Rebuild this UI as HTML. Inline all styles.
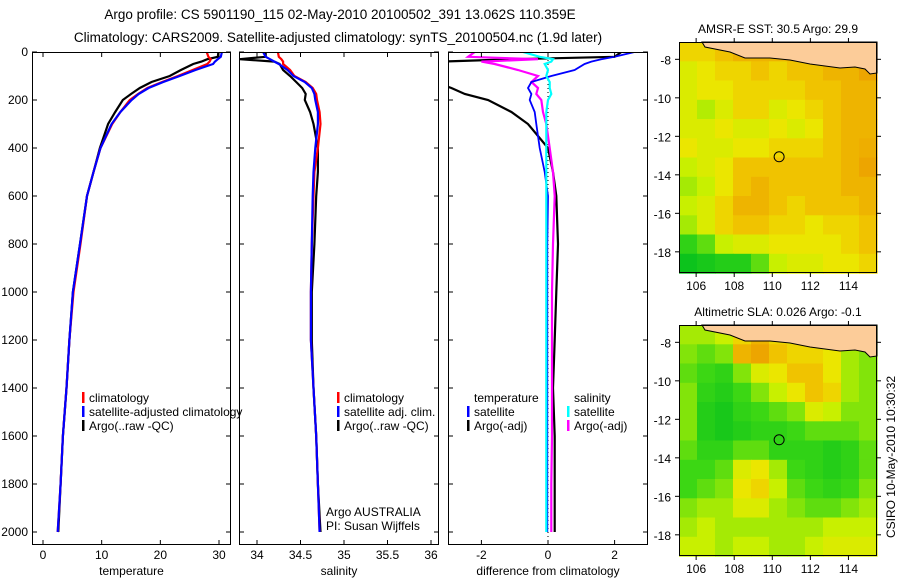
<!DOCTYPE html>
<html><head><meta charset="utf-8"><style>
body{margin:0;background:#fff;}
svg{display:block;font-family:"Liberation Sans",sans-serif;}
text{font-size:12px;fill:#000;}
</style></head><body>
<svg id="c" width="900" height="580" viewBox="0 0 900 580">
<text x="340" y="19" text-anchor="middle" style="font-size:13.5px">Argo profile: CS 5901190_115 02-May-2010 20100502_391 13.062S 110.359E</text>
<text x="338" y="42" text-anchor="middle" style="font-size:13.5px">Climatology: CARS2009. Satellite-adjusted climatology: synTS_20100504.nc (1.9d later)</text>
<text x="778" y="33" text-anchor="middle">AMSR-E SST: 30.5 Argo: 29.9</text>
<text x="778" y="316" text-anchor="middle">Altimetric SLA: 0.026 Argo: -0.1</text>
<text transform="translate(895,457) rotate(-90)" text-anchor="middle">CSIRO 10-May-2010 10:30:32</text>
</svg>
<script>
const depths=[0,20,30,40,50,75,100,125,150,175,200,250,300,400,500,600,800,1000,1200,1400,1600,1800,2000];
const tempArgo=[29.9,29.8,28,27,25.6,23.5,21.6,18.5,16.5,15,13.6,12.3,11.1,9.7,8.6,7.5,6.3,5.1,4.5,4.0,3.4,3.0,2.6];
const tempAdj=[30.5,30.3,29.8,29.3,29,26,23.3,20.5,18,16.3,15.1,13.2,11.7,9.8,8.6,7.5,6.3,5.1,4.5,4.0,3.4,3.0,2.5];
const tempClim=[27.9,28.2,28.6,28.4,28,25.5,23,20.3,17.8,16.2,14.8,13.2,11.8,9.8,8.6,7.5,6.4,5.2,4.5,4.0,3.4,3.0,2.5];
const salArgo=[34.1,34.1,33.8,34.2,34.26,34.3,34.38,34.45,34.52,34.56,34.55,34.61,34.65,34.70,34.7,34.68,34.66,34.63,34.63,34.65,34.68,34.7,34.73];
const salAdj=[34.07,34.1,34.15,34.2,34.25,34.35,34.42,34.55,34.63,34.66,34.67,34.70,34.70,34.67,34.65,34.64,34.63,34.62,34.62,34.65,34.68,34.7,34.72];
const salClim=[34.24,34.25,34.28,34.3,34.3,34.38,34.43,34.56,34.64,34.68,34.69,34.72,34.73,34.7,34.66,34.65,34.63,34.62,34.62,34.65,34.68,34.7,34.72];
const dTempSat=[2.6,2.0,1.6,1.3,1.1,0.8,0.1,-0.5,-0.6,-0.5,-0.55,-0.4,-0.35,-0.25,-0.1,0,-0.02,-0.02,-0.02,-0.02,-0.02,-0.02,-0.02];
const dTempArgo=[2.2,2.0,-1.0,-3.2,-3.4,-3.5,-3.5,-3.4,-2.9,-2.5,-1.8,-1.1,-0.6,0,0.15,0.25,0.3,0.25,0.2,0.15,0.2,0.2,0.2];
const dSalSat=[-0.75,-0.25,0.15,0.1,-0.1,0.0,-0.05,0.05,0.05,0.1,0,-0.05,-0.05,-0.05,-0.05,-0.05,-0.05,-0.05,-0.05,-0.05,-0.05,-0.05,-0.05];
const dSalArgo=[-2.2,-2.4,-0.3,-2.0,-1.6,-0.9,-0.3,-0.5,-0.3,-0.35,-0.2,-0.15,-0.05,0.05,0.15,0.2,0.15,0.12,0.12,0.12,0.12,0.1,0.1];
const depthTicks=[0,200,400,600,800,1000,1200,1400,1600,1800,2000];
const tempTicks=[0,10,20,30];
const salTicks=[34,34.5,35,35.5,36];
const diffTicks=[-2,0,2];
const lonTicks=[106,108,110,112,114];
const latTicks=[-8,-10,-12,-14,-16,-18];
const sstGrid=[
[0.6,0.6,0.65,0.7,0.7,0.7,0.7,0.7,0.8,0.8,0.85],
[0.5,0.55,0.6,0.6,0.65,0.6,0.65,0.65,0.7,0.7,0.75],
[0.5,0.55,0.55,0.6,0.6,0.6,0.6,0.65,0.65,0.7,0.7],
[0.5,0.42,0.5,0.6,0.6,0.5,0.55,0.6,0.65,0.7,0.7],
[0.5,0.5,0.55,0.5,0.5,0.55,0.5,0.55,0.65,0.7,0.7],
[0.55,0.5,0.5,0.55,0.55,0.6,0.6,0.6,0.65,0.7,0.72],
[0.45,0.5,0.55,0.65,0.65,0.65,0.65,0.65,0.65,0.7,0.75],
[0.4,0.45,0.55,0.65,0.7,0.65,0.65,0.65,0.65,0.7,0.7],
[0.45,0.5,0.6,0.7,0.7,0.65,0.6,0.65,0.65,0.65,0.7],
[0.4,0.5,0.6,0.65,0.65,0.6,0.6,0.55,0.6,0.6,0.65],
[0.2,0.3,0.45,0.5,0.5,0.55,0.55,0.55,0.55,0.6,0.65],
[0.05,0.1,0.15,0.15,0.3,0.45,0.5,0.5,0.55,0.55,0.6]];
const slaGrid=[
[0.4,0.4,0.45,0.6,0.7,0.6,0.55,0.55,0.5,0.35,0.3],
[0.35,0.3,0.35,0.7,0.75,0.65,0.6,0.6,0.55,0.4,0.35],
[0.3,0.25,0.2,0.35,0.5,0.55,0.65,0.65,0.55,0.4,0.35],
[0.35,0.2,0.15,0.25,0.35,0.45,0.55,0.65,0.6,0.4,0.35],
[0.35,0.15,0.1,0.2,0.25,0.3,0.35,0.5,0.45,0.35,0.35],
[0.35,0.15,0.1,0.15,0.2,0.2,0.25,0.3,0.3,0.3,0.35],
[0.3,0.2,0.2,0.3,0.3,0.2,0.2,0.2,0.15,0.2,0.3],
[0.25,0.25,0.3,0.5,0.55,0.4,0.25,0.2,0.15,0.2,0.3],
[0.25,0.3,0.35,0.55,0.6,0.45,0.3,0.25,0.2,0.25,0.35],
[0.35,0.4,0.4,0.5,0.5,0.4,0.35,0.3,0.3,0.35,0.4],
[0.4,0.45,0.4,0.4,0.4,0.4,0.4,0.4,0.45,0.45,0.45],
[0.45,0.45,0.4,0.45,0.45,0.4,0.4,0.45,0.5,0.5,0.5]];
const argoLon=110.359, argoLat=-13.062;

const NS='http://www.w3.org/2000/svg';
const svg=document.getElementById('c');
function mk(tag,attrs,parent){const e=document.createElementNS(NS,tag);for(const k in attrs)e.setAttribute(k,attrs[k]);(parent||svg).appendChild(e);return e;}
function txt(x,y,s,anchor,parent){const t=mk('text',{x:x,y:y,'text-anchor':anchor||'start'},parent);t.textContent=s;return t;}

const yTop=52,yBot=545;
const yD=d=>52+d*0.24;
const panels=[
 {x0:32,x1:231,xs:v=>43+v*5.867,ticks:tempTicks,label:'temperature',name:'temperature-panel'},
 {x0:239,x1:439,xs:v=>257+(v-34)*87,ticks:salTicks,label:'salinity',name:'salinity-panel'},
 {x0:448,x1:648,xs:v=>548+v*33.3,ticks:diffTicks,label:'difference from climatology',name:'difference-panel'}];
panels.forEach((p,i)=>{
  const g=mk('g',{});
  
  
  const cp=mk('clipPath',{id:'cp'+i},g);mk('rect',{x:p.x0,y:yTop,width:p.x1-p.x0,height:yBot-yTop},cp);
  p.g=mk('g',{'clip-path':'url(#cp'+i+')'},g);
  p.ticks.forEach(t=>{const x=p.xs(t);
    mk('line',{x1:x,x2:x,y1:yBot,y2:yBot-5,stroke:'#000'},g);
    mk('line',{x1:x,x2:x,y1:yTop,y2:yTop+5,stroke:'#000'},g);
    const tl=txt(x,yBot+14,String(t),'middle',g);
    
    });
  depthTicks.forEach(d=>{const y=yD(d);
    mk('line',{x1:p.x0,x2:p.x0+5,y1:y,y2:y,stroke:'#000'},g);
    mk('line',{x1:p.x1,x2:p.x1-5,y1:y,y2:y,stroke:'#000'},g);
    if(i===0){const tl=txt(p.x0-4,y+4,String(d),'end',g);
      
      }});
  mk('rect',{x:p.x0+0.5,y:yTop+0.5,width:p.x1-p.x0-1,height:yBot-yTop-1,fill:'none',stroke:'#000'},g);
  const xl=txt((p.x0+p.x1)/2,yBot+30,p.label,'middle',g);
  
  
});
mk('line',{x1:548,x2:548,y1:yTop,y2:yBot,stroke:'#000','stroke-dasharray':'1,3'},panels[2].g);
function line(p,vals,col,name,w){
  const pts=vals.map((v,k)=>p.xs(v).toFixed(1)+','+yD(depths[k]).toFixed(1)).join(' ');
  const l=mk('polyline',{points:pts,fill:'none',stroke:col,'stroke-width':w||2.2},p.g);
  
  
}
line(panels[0],tempArgo,'#000','temp-argo-line');
line(panels[0],tempClim,'#f00','temp-climatology-line');
line(panels[0],tempAdj,'#00f','temp-satellite-adjusted-line');
line(panels[1],salArgo,'#000','salinity-argo-line');
line(panels[1],salClim,'#f00','salinity-climatology-line');
line(panels[1],salAdj,'#00f','salinity-satellite-adjusted-line');
line(panels[2],dTempArgo,'#000','temp-diff-argo-line');
line(panels[2],dSalArgo,'#f0f','salinity-diff-argo-line');
line(panels[2],dTempSat,'#00f','temp-diff-satellite-line',1.8);
line(panels[2],dSalSat,'#0ff','salinity-diff-satellite-line');

function legend(x,y,items,name){
  const g=mk('g',{});
  
  
  items.forEach((it,k)=>{const yy=y+k*14;
    if(it[0])mk('rect',{x:x,y:yy-10,width:2.5,height:11,fill:it[0]},g);
    txt(x+7,yy,it[1],'start',g);});
}
legend(82,402,[['#f00','climatology'],['#00f','satellite-adjusted climatology'],['#000','Argo(..raw -QC)']],'temperature-legend');
legend(337,402,[['#f00','climatology'],['#00f','satellite adj. clim.'],['#000','Argo(..raw -QC)']],'salinity-legend');
legend(467,402,[[null,'temperature'],['#00f','satellite'],['#000','Argo(-adj)']],'temp-diff-legend');
legend(567,402,[[null,'salinity'],['#0ff','satellite'],['#f0f','Argo(-adj)']],'salinity-diff-legend');
const ai=txt(326,516,'Argo AUSTRALIA');
const pi=txt(326,530,'PI: Susan Wijffels');

const stops=[[0,[0,190,30]],[0.25,[60,215,20]],[0.45,[200,240,0]],[0.55,[235,230,0]],[0.65,[240,195,0]],[0.8,[235,150,0]],[1,[190,50,0]]];
function cmap(v){for(let k=1;k<stops.length;k++){if(v<=stops[k][0]){const a=stops[k-1],b=stops[k];const t=(v-a[0])/(b[0]-a[0]);
  return 'rgb('+a[1].map((c,j)=>Math.round(c+(b[1][j]-c)*t)).join(',')+')';}}return 'rgb(190,50,0)';}
const lonMin=105.1,lonMax=115.5,latMax=-7.1,latMin=-19.1;
function map(y0,grid,name){
  const x0=679,x1=877,y1=y0+231;
  const lx=l=>x0+(l-lonMin)/(lonMax-lonMin)*(x1-x0);
  const ly=l=>y0+(latMax-l)/(latMax-latMin)*(y1-y0);
  const g=mk('g',{});
  
  
  const rows=grid.length,cols=grid[0].length;
  grid.forEach((row,r)=>row.forEach((v,c)=>{
    const cell=mk('rect',{x:(x0+c*(x1-x0)/cols).toFixed(1),y:(y0+r*(y1-y0)/rows).toFixed(1),width:((x1-x0)/cols+0.6).toFixed(1),height:((y1-y0)/rows+0.6).toFixed(1),fill:cmap(v)},g);
    
    }));
  const o=y0-42;
  const land=[[702,42],[705,47],[730,52],[745,58],[770,58],[790,60],[810,64],[840,68],[855,67],[865,69],[870,74],[877,73],[877,42]];
  const lp=mk('polygon',{points:land.map(p=>p[0]+','+(p[1]+o)).join(' '),fill:'#fccc99',stroke:'#000','stroke-width':1},g);
  
  
  const m=mk('circle',{cx:lx(argoLon),cy:ly(argoLat),r:5,fill:'none',stroke:'#000','stroke-width':1},g);
  
  
  mk('rect',{x:x0+0.5,y:y0+0.5,width:x1-x0-1,height:y1-y0-1,fill:'none',stroke:'#000'},g);
  lonTicks.forEach(l=>{const x=lx(l);mk('line',{x1:x,x2:x,y1:y0,y2:y0-4,stroke:'#000'},g);mk('line',{x1:x,x2:x,y1:y1,y2:y1+4,stroke:'#000'},g);
    const t=txt(x,y1+17,String(l),'middle',g);});
  latTicks.forEach(l=>{const y=ly(l);mk('line',{x1:x0,x2:x0-4,y1:y,y2:y,stroke:'#000'},g);mk('line',{x1:x1,x2:x1+4,y1:y,y2:y,stroke:'#000'},g);
    const t=txt(x0-8,y+5,String(l),'end',g);});
}
map(42,sstGrid,'sst-map');
map(325,slaGrid,'sla-map');
</script>
</body></html>
